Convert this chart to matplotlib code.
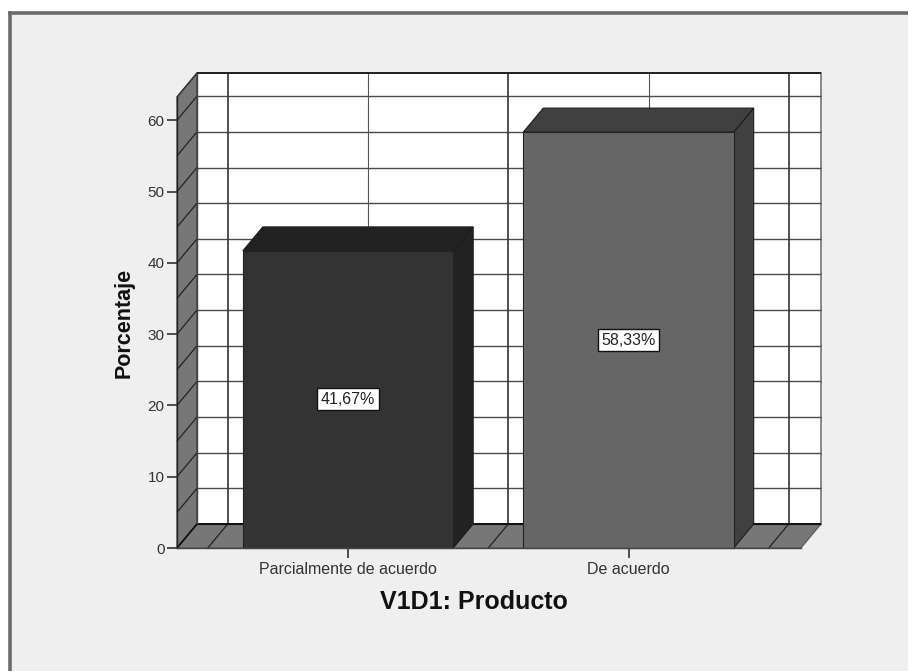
import matplotlib
matplotlib.use("Agg")
import matplotlib.pyplot as plt
from matplotlib.lines import Line2D
from matplotlib.patches import Polygon, Rectangle

plt.rcParams['font.family'] = ['Liberation Sans', 'DejaVu Sans']

categories = ['Parcialmente de acuerdo', 'De acuerdo']
percentages = [41.67, 58.33]
value_labels = ['41,67%', '58,33%']
bar_colors = ['#333333', '#666666']
side_colors = ['#222222', '#404040']
y_ticks = [0, 10, 20, 30, 40, 50, 60]
grid_values = [0, 5, 10, 15, 20, 25, 30, 35, 40, 45, 50, 55, 60]
major_positions = [-0.5, 0.5, 1.5]
minor_positions = [0, 1]

W, H = 908, 671
# plot box of the front plane, in pixels from the top left
LEFT, RIGHT, BOTTOM, TOP = 177, 801, 548, 97

fig = plt.figure(figsize=(W / 100, H / 100), dpi=100, facecolor='white')

# grey panel with a dark border along the top and left only
fig.add_artist(Rectangle((9.5 / W, 0), 1, 1 - 13 / H, transform=fig.transFigure,
                         facecolor='#efefef', edgecolor='none', zorder=-1))
fig.add_artist(Line2D([9.5 / W, 1], [1 - 13 / H, 1 - 13 / H], color='#6a6a6a', lw=2.6, zorder=-1))
fig.add_artist(Line2D([9.5 / W, 9.5 / W], [0, 1 - 13 / H], color='#6a6a6a', lw=2.6, zorder=-1))

ax = fig.add_axes([LEFT / W, 1 - BOTTOM / H, (RIGHT - LEFT) / W, (BOTTOM - TOP) / H])
ax.patch.set_visible(False)
ax.set_xlim((LEFT - 348) / 280.5, (RIGHT - 348) / 280.5)
ax.set_ylim(0, (BOTTOM - TOP) / 7.13)
x0, x1 = ax.get_xlim()
y0, y1 = ax.get_ylim()

# depth of the fake 3D box, in data units
dx = 20 / 280.5
dy = 24 / 7.13


def poly(points, color, z, edge='#333333', lw=0.8):
    ax.add_patch(Polygon(points, closed=True, facecolor=color, edgecolor=edge,
                         linewidth=lw, zorder=z, clip_on=False, joinstyle='miter'))


def line(xs, ys, z, color='#222222', lw=1.0):
    ax.plot(xs, ys, color=color, lw=lw, zorder=z, clip_on=False, solid_capstyle='butt')


# back wall, side wall and floor
poly([(x0 + dx, dy), (x1 + dx, dy), (x1 + dx, y1 + dy), (x0 + dx, y1 + dy)], 'white', 1,
     edge='#888888', lw=1.4)
poly([(x0, 0), (x0 + dx, dy), (x0 + dx, y1 + dy), (x0, y1)], '#777777', 2)
poly([(x0, 0), (x1, 0), (x1 + dx, dy), (x0 + dx, dy)], '#777777', 2, edge='#555555')

for v in grid_values:
    line([x0 + dx, x1 + dx], [v + dy, v + dy], 3, color='#4a4a4a', lw=1.0)
    line([x0, x0 + dx], [v, v + dy], 3, color='#222222', lw=0.9)
for p in major_positions:
    line([p + dx, p + dx], [dy, y1 + dy], 3, color='#333333', lw=1.2)
    line([p, p + dx], [0, dy], 3, color='#222222', lw=0.9)
for p in minor_positions:
    line([p + dx, p + dx], [dy, y1 + dy], 3, color='#555555', lw=0.8)
line([x0 + dx, x1 + dx], [y1 + dy, y1 + dy], 3, color='#222222', lw=1.4)
line([x0 + dx, x1 + dx], [dy, dy], 3, color='#111111', lw=1.4)
line([x0 + dx, x0 + dx], [dy, y1 + dy], 3, color='#444444', lw=1.0)
line([x0, x0 + dx], [0, dy], 3, color='#111111', lw=1.2)
line([x0, x0 + dx], [y1, y1 + dy], 3, color='#333333', lw=1.0)

# bars with their top and side faces
bar_width = 0.75
for i, v in enumerate(percentages):
    a, b = i - bar_width / 2, i + bar_width / 2
    poly([(b, 0), (b + dx, dy), (b + dx, v + dy), (b, v)], side_colors[i], 5, edge='#1c1c1c')
    poly([(a, v), (b, v), (b + dx, v + dy), (a + dx, v + dy)], side_colors[i], 5, edge='#1c1c1c')
    ax.bar(i, v, width=bar_width, color=bar_colors[i], edgecolor='#222222', linewidth=0.8,
           zorder=6, clip_on=False)
    ax.text(i, v / 2, value_labels[i], ha='center', va='center', fontsize=11.5, color='#222222',
            zorder=7, bbox=dict(boxstyle='square,pad=0.22', facecolor='white', edgecolor='#111111',
                                linewidth=1.0))

for side in ['top', 'right']:
    ax.spines[side].set_visible(False)
ax.spines['left'].set_color('#222222')
ax.spines['bottom'].set_color('#444444')
for side in ['left', 'bottom']:
    ax.spines[side].set_linewidth(1.0)
    ax.spines[side].set_zorder(8)

ax.set_yticks(y_ticks)
ax.set_xticks(range(len(categories)))
ax.set_xticklabels(categories)
ax.tick_params(axis='y', length=7.5, width=1.1, labelsize=11, color='#222222',
               labelcolor='#333333', pad=1.5)
ax.tick_params(axis='x', length=7, width=1.1, labelsize=11.5, color='#222222',
               labelcolor='#333333', pad=3)

fig.text(124 / W, 1 - 323 / H, 'Porcentaje', rotation=90, ha='center', va='center',
         fontsize=15.5, fontweight='bold', color='#111111')
fig.text(474 / W, 1 - 602 / H, 'V1D1: Producto', ha='center', va='center',
         fontsize=18, fontweight='bold', color='#111111')

fig.savefig('out.png', dpi=100, facecolor=fig.get_facecolor())
